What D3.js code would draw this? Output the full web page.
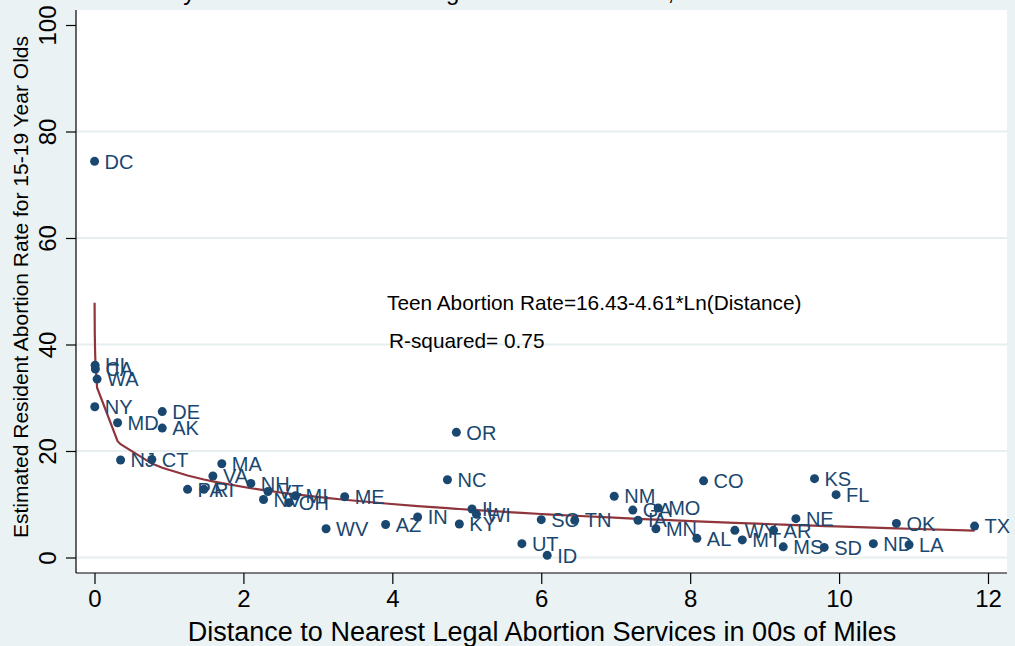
<!DOCTYPE html>
<html>
<head>
<meta charset="utf-8">
<script src="https://cdn.jsdelivr.net/npm/d3@7"></script>
<style>
  body { margin: 0; background: #eaf2f3; }
  text { font-family: "Liberation Sans", Arial, sans-serif; }
</style>
</head>
<body>
<svg id="viz" width="1015" height="646"></svg>
<script>
const svg = d3.select("#viz");
const W = 1015, H = 646;

// state labels, distance (00s of miles) and teen abortion rate
const states = ["DC", "HI", "CA", "WA", "NY", "MD", "DE", "AK", "NJ", "CT",
  "MA", "VA", "PA", "RI", "NH", "NV", "VT", "MI", "OH", "ME",
  "WV", "AZ", "IN", "NC", "OR", "IL", "KY", "WI", "UT", "ID",
  "SC", "TN", "NM", "GA", "MO", "IA", "MN", "CO", "AL", "WY",
  "MT", "AR", "NE", "MS", "KS", "FL", "SD", "ND", "LA", "OK", "TX"];
const distance = [0.0011, 0.008, 0.012, 0.035, 0.004, 0.31, 0.91, 0.91, 0.35, 0.77,
  1.71, 1.59, 1.25, 1.47, 2.10, 2.27, 2.33, 2.70, 2.61, 3.36,
  3.11, 3.91, 4.34, 4.74, 4.86, 5.07, 4.90, 5.13, 5.74, 6.08,
  6.00, 6.45, 6.98, 7.23, 7.57, 7.30, 7.54, 8.18, 8.09, 8.60,
  8.70, 9.12, 9.42, 9.25, 9.67, 9.96, 9.80, 10.46, 10.94, 10.77, 11.82];
const rate = [74.4, 36.1, 35.4, 33.5, 28.3, 25.3, 27.4, 24.3, 18.3, 18.4,
  17.6, 15.3, 12.8, 12.8, 13.9, 10.9, 12.4, 11.6, 10.3, 11.4,
  5.4, 6.2, 7.6, 14.6, 23.5, 9.1, 6.3, 8.1, 2.6, 0.4,
  7.1, 7.0, 11.5, 8.9, 9.3, 7.0, 5.4, 14.4, 3.6, 5.1,
  3.3, 5.1, 7.3, 2.0, 14.8, 11.8, 1.9, 2.6, 2.4, 6.4, 5.9];

// fitted model from the annotation
const fitA = 16.43, fitB = -4.61;
const notes = ["Teen Abortion Rate=16.43-4.61*Ln(Distance)", "R-squared= 0.75"];

const xTicks = [0, 2, 4, 6, 8, 10, 12];
const yTicks = [0, 20, 40, 60, 80, 100];

const navy = "#1a476f";
const plot = { left: 76, right: 1007, top: 10, bottom: 573 };

const x = d3.scaleLinear().domain([0, 12]).range([94.5, 988]);
const y = d3.scaleLinear().domain([0, 100]).range([557.5, 25]);

// background
svg.append("rect").attr("width", W).attr("height", H).attr("fill", "#eaf2f3");
svg.append("rect")
  .attr("x", plot.left).attr("y", plot.top)
  .attr("width", plot.right - plot.left).attr("height", plot.bottom - plot.top)
  .attr("fill", "#fff");

// title (mostly cut off at the top edge)
svg.append("text")
  .attr("x", 507).attr("y", 0)
  .attr("text-anchor", "middle")
  .style("font-size", "24px")
  .attr("fill", "#000")
  .text("by Distance to Nearest Legal Abortion Provider, 50 States + DC");

// gridlines
svg.append("g")
  .selectAll("line")
  .data(yTicks.filter(d => d < 100))
  .enter().append("line")
  .attr("x1", plot.left + 1).attr("x2", plot.right)
  .attr("y1", d => y(d)).attr("y2", d => y(d))
  .attr("stroke", "#e6eef0")
  .attr("stroke-width", 2);

// axes
const xAxis = svg.append("g")
  .attr("transform", `translate(0,${plot.bottom})`)
  .call(d3.axisBottom(x).tickValues(xTicks).tickSize(11).tickPadding(6).tickSizeOuter(0));
xAxis.select(".domain").attr("d", `M${plot.left},0H${plot.right}`);
xAxis.selectAll("text").style("font-size", "24px").attr("fill", "#000");

const yAxis = svg.append("g")
  .attr("transform", `translate(${plot.left},0)`)
  .call(d3.axisLeft(y).tickValues(yTicks).tickSize(10).tickSizeOuter(0));
yAxis.select(".domain").attr("d", `M0,${plot.top}V${plot.bottom}`);
yAxis.selectAll("text")
  .style("font-size", "24px")
  .attr("fill", "#000")
  .attr("x", 0).attr("dy", 0)
  .attr("text-anchor", "middle")
  .attr("transform", "translate(-20,0) rotate(-90)");
svg.selectAll(".domain, .tick line").attr("stroke", "#000").attr("stroke-width", 1.2);

// axis titles
svg.append("text")
  .attr("x", 542).attr("y", 641)
  .attr("text-anchor", "middle")
  .style("font-size", "27px")
  .text("Distance to Nearest Legal Abortion Services in 00s of Miles");

svg.append("text")
  .attr("transform", "translate(28,287) rotate(-90)")
  .attr("text-anchor", "middle")
  .style("font-size", "21px")
  .text("Estimated Resident Abortion Rate for 15-19 Year Olds");

// fitted line through predictions at each observed distance
const fitPts = distance.map(d => [d, fitA + fitB * Math.log(d)])
  .sort((a, b) => a[0] - b[0]);
svg.append("path")
  .datum(fitPts)
  .attr("d", d3.line().x(d => x(d[0])).y(d => y(d[1])))
  .attr("fill", "none")
  .attr("stroke", "#90353b")
  .attr("stroke-width", 2.2);

// points and state labels
const pts = states.map((s, i) => ({ s, d: distance[i], r: rate[i] }));
const ptG = svg.append("g").selectAll("g")
  .data(pts)
  .enter().append("g")
  .attr("transform", d => `translate(${x(d.d)},${y(d.r)})`);
ptG.append("circle").attr("r", 4.5).attr("fill", navy);
ptG.append("text")
  .attr("x", 10).attr("dy", "0.36em")
  .style("font-size", "20px")
  .attr("fill", navy)
  .text(d => d.s);

// regression annotation
svg.append("g").selectAll("text")
  .data(notes)
  .enter().append("text")
  .attr("x", (d, i) => i === 0 ? 387 : 389)
  .attr("y", (d, i) => i === 0 ? 310 : 348)
  .style("font-size", "20.8px")
  .attr("fill", "#000")
  .text(d => d);
</script>
</body>
</html>
